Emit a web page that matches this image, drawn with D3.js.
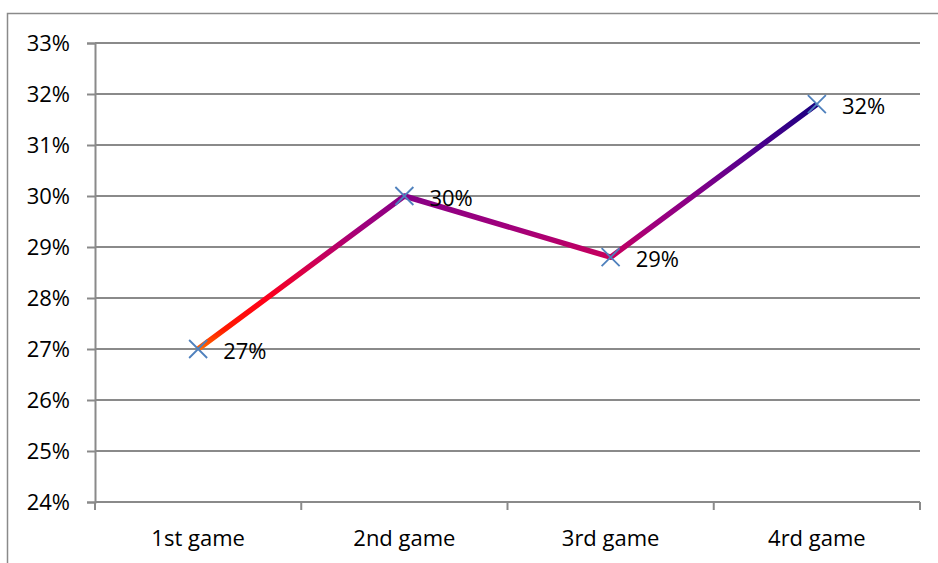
<!DOCTYPE html>
<html>
<head>
<meta charset="utf-8">
<script src="https://cdn.jsdelivr.net/npm/d3@7"></script>
<style>
  html, body { margin: 0; padding: 0; background: #fff; }
  svg { display: block; }
  text { font-family: "Open Sans", "Liberation Sans", sans-serif; fill: #000; }
</style>
</head>
<body>
<svg id="chart" width="938" height="563"></svg>
<script>
// Share per game
const games = ["1st game", "2nd game", "3rd game", "4rd game"];
const shares = [0.270, 0.300, 0.288, 0.318];
const yTicks = [0.24, 0.25, 0.26, 0.27, 0.28, 0.29, 0.30, 0.31, 0.32, 0.33];

const W = 938, H = 563;
const margin = { left: 95, right: 18, top: 43, bottom: 61 };
const svg = d3.select("#chart");
const grey = "#8a8a8a";
const fmt = d3.format(".0%");

// chart frame
svg.append("rect")
  .attr("x", 7.5).attr("y", 13.5)
  .attr("width", W + 20).attr("height", H + 20)
  .attr("fill", "none").attr("stroke", grey).attr("stroke-width", 1.5);

const x = d3.scaleBand().domain(games)
  .range([margin.left, W - margin.right]).paddingInner(0).paddingOuter(0);
const y = d3.scaleLinear().domain([0.24, 0.33])
  .range([H - margin.bottom, margin.top]);

// horizontal gridlines
svg.append("g").selectAll("line").data(yTicks.slice(1)).join("line")
  .attr("x1", margin.left).attr("x2", W - margin.right)
  .attr("y1", d => y(d)).attr("y2", d => y(d))
  .attr("stroke", grey).attr("stroke-width", 2);

// y axis
const yAxis = svg.append("g")
  .attr("transform", `translate(${margin.left},0)`)
  .call(d3.axisLeft(y).tickValues(yTicks).tickFormat(fmt).tickSize(8).tickPadding(17));
yAxis.select(".domain").attr("stroke", grey).attr("stroke-width", 2);
yAxis.selectAll(".tick line").attr("stroke", grey).attr("stroke-width", 2);
yAxis.selectAll("text").attr("font-size", 22).style("font-family", "'Open Sans', sans-serif").attr("fill", "#000");

// x axis (ticks between categories)
const xAxisG = svg.append("g").attr("transform", `translate(0,${y(0.24)})`);
xAxisG.append("line")
  .attr("x1", margin.left).attr("x2", W - margin.right)
  .attr("stroke", grey).attr("stroke-width", 2);
const bounds = games.map(g => x(g)).concat([x(games[games.length - 1]) + x.bandwidth()]);
xAxisG.selectAll("line.tk").data(bounds).join("line").attr("class", "tk")
  .attr("x1", d => d).attr("x2", d => d).attr("y1", 0).attr("y2", 8)
  .attr("stroke", grey).attr("stroke-width", 2);
xAxisG.selectAll("text").data(games).join("text")
  .attr("x", d => x(d) + x.bandwidth() / 2)
  .attr("y", 44)
  .attr("text-anchor", "middle")
  .attr("font-size", 22)
  .text(d => d);

const px = d => x(d) + x.bandwidth() / 2;
const pts = games.map((g, i) => [px(g), y(shares[i])]);

// vertical colour ramp for the line
const yMin = d3.min(pts, p => p[1]), yMax = d3.max(pts, p => p[1]);
const grad = svg.append("defs").append("linearGradient")
  .attr("id", "lineGrad").attr("gradientUnits", "userSpaceOnUse")
  .attr("x1", 0).attr("x2", 0).attr("y1", yMax).attr("y2", yMin);
[[0, "#ff6a00"], [0.08, "#ff1a00"], [0.2, "#ff0018"], [0.36, "#cc0058"],
 [0.5, "#a0007c"], [0.62, "#880086"], [0.8, "#52008e"], [1, "#1a0080"]]
  .forEach(([o, c]) => grad.append("stop").attr("offset", o).attr("stop-color", c));

svg.append("path")
  .attr("d", d3.line()(pts))
  .attr("fill", "none")
  .attr("stroke", "url(#lineGrad)")
  .attr("stroke-width", 5.5)
  .attr("stroke-linejoin", "round");

// X markers
const m = 9;
svg.append("g").selectAll("path").data(pts).join("path")
  .attr("d", p => `M${p[0]-m},${p[1]-m}L${p[0]+m},${p[1]+m}M${p[0]-m},${p[1]+m}L${p[0]+m},${p[1]-m}`)
  .attr("stroke", "#4f81bd").attr("stroke-width", 1.8).attr("fill", "none");

// value labels
svg.append("g").selectAll("text").data(pts).join("text")
  .attr("x", p => p[0] + 25)
  .attr("y", p => p[1] + 1)
  .attr("dominant-baseline", "central")
  .attr("font-size", 22)
  .text((p, i) => fmt(shares[i]));
</script>
</body>
</html>
